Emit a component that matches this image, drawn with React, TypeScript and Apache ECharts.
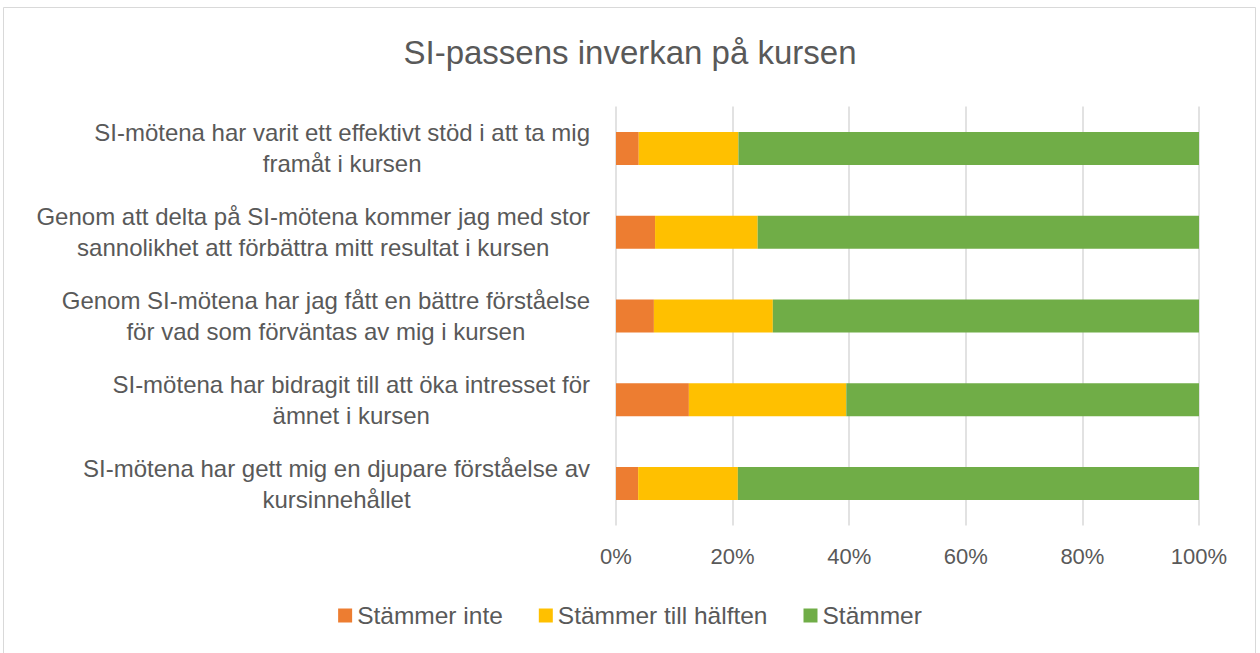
import React, { useEffect, useRef } from "react";
import * as echarts from "echarts";

const titleText = "SI-passens inverkan på kursen";
const categories = [
  "SI-mötena har varit ett effektivt stöd i att ta mig\nframåt i kursen",
  "Genom att delta på SI-mötena kommer jag med stor\nsannolikhet att förbättra mitt resultat i kursen",
  "Genom SI-mötena har jag fått en bättre förståelse\nför vad som förväntas av mig i kursen",
  "SI-mötena har bidragit till att öka intresset för\nämnet i kursen",
  "SI-mötena har gett mig en djupare förståelse av\nkursinnehållet",
];
const seriesNames = ["Stämmer inte", "Stämmer till hälften", "Stämmer"];
const stammerInte = [3.9, 6.7, 6.5, 12.5, 3.8];
const stammerHalften = [17.1, 17.6, 20.4, 27.0, 17.1];
const stammer = [79.0, 75.7, 73.1, 60.5, 79.1];
const xTicks = [0, 20, 40, 60, 80, 100];
const colors = ["#ED7D31", "#FFC000", "#70AD47"];

const FONT = "'Liberation Sans', Arial, sans-serif";
const TEXT = "#595959";

export default function App() {
  const ref = useRef<HTMLDivElement>(null);
  useEffect(() => {
    if (!ref.current) return;
    const chart = echarts.init(ref.current, null, { renderer: "svg" });
    const values = [stammerInte, stammerHalften, stammer];
    chart.setOption({
      animation: false,
      backgroundColor: "#ffffff",
      textStyle: { fontFamily: FONT },
      title: {
        text: titleText,
        left: "center",
        top: 31,
        textStyle: { fontFamily: FONT, fontSize: 33, fontWeight: "normal", color: TEXT },
      },
      graphic: [
        {
          type: "rect",
          shape: { x: 3.5, y: 7.5, width: 1252, height: 660 },
          style: { fill: "none", stroke: "#d9d9d9", lineWidth: 1 },
          silent: true,
        },
      ],
      legend: {
        data: seriesNames,
        bottom: 20,
        left: "center",
        itemWidth: 14,
        itemHeight: 14,
        itemGap: 36,
        icon: "rect",
        textStyle: { fontFamily: FONT, fontSize: 24.5, color: TEXT },
      },
      grid: { left: 616, right: 61, top: 106.6, bottom: 127.6 },
      xAxis: {
        type: "value",
        min: xTicks[0],
        max: xTicks[xTicks.length - 1],
        interval: 20,
        axisLine: { show: false },
        axisTick: { show: false },
        axisLabel: {
          formatter: "{value}%",
          margin: 20,
          fontFamily: FONT,
          fontSize: 22,
          color: TEXT,
        },
        splitLine: { show: true, lineStyle: { color: "#d9d9d9", width: 1.5 } },
      },
      yAxis: {
        type: "category",
        inverse: true,
        data: categories,
        axisLine: { show: false },
        axisTick: { show: false },
        axisLabel: {
          margin: 26,
          align: "right",
          formatter: (v: string) => "{c|" + v + "}",
          rich: {
            c: {
              align: "center",
              fontFamily: FONT,
              fontSize: 24,
              lineHeight: 31,
              color: TEXT,
            },
          },
        },
      },
      series: seriesNames.map((name, i) => ({
        name,
        type: "bar",
        stack: "total",
        barWidth: 33,
        itemStyle: { color: colors[i] },
        data: values[i],
      })),
    });
    return () => chart.dispose();
  }, []);
  return (
    <div
      ref={ref}
      style={{ position: "absolute", left: 0, top: 0, width: 1260, height: 653 }}
    />
  );
}
